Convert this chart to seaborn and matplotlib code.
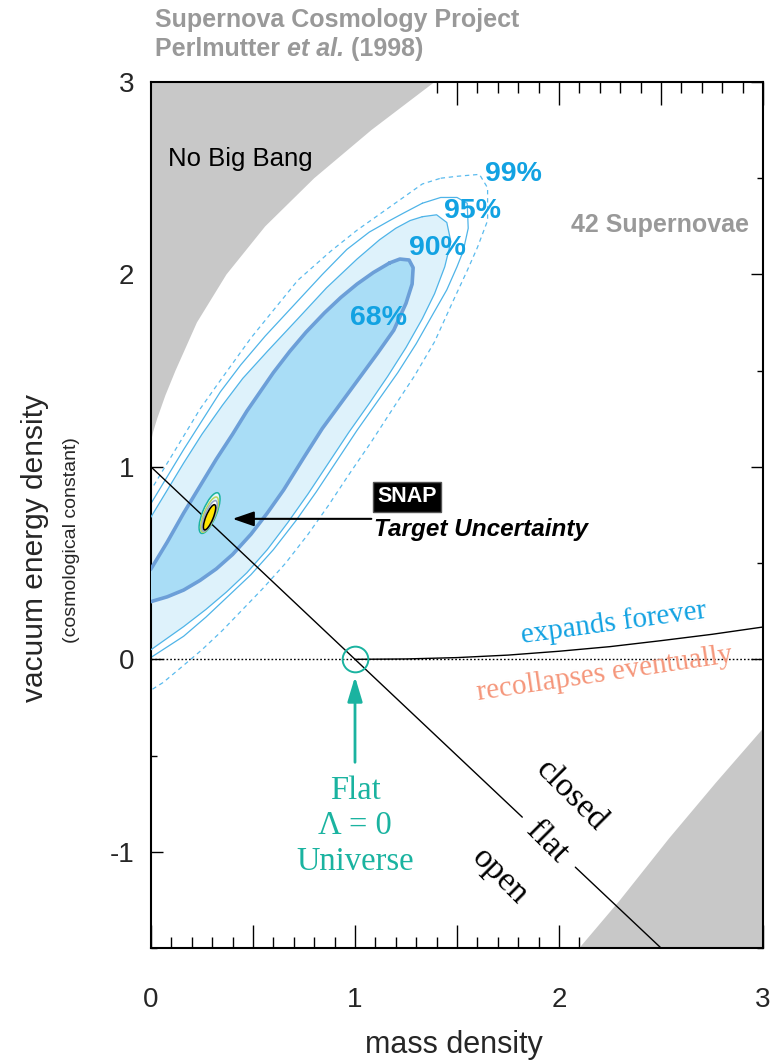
import numpy as np
import pandas as pd
import matplotlib
matplotlib.use("Agg")
import matplotlib.pyplot as plt
import seaborn as sns
from matplotlib.patches import Ellipse
from matplotlib.ticker import MultipleLocator, FuncFormatter

# ---------------- data ----------------
# "No Big Bang" region boundary (upper left)
nobigbang_x = [0.0, 0.01, 0.03, 0.07, 0.12, 0.225, 0.37, 0.56, 0.80, 1.08, 1.39]
nobigbang_y = [1.13, 1.18, 1.25, 1.37, 1.50, 1.75, 2.00, 2.25, 2.50, 2.75, 3.00]
# lower-right excluded region boundary
lowright_x = [2.10, 2.30, 2.54, 2.77, 3.00]
lowright_y = [-1.50, -1.25, -0.93, -0.64, -0.36]

# confidence contours (68 / 90 / 95 / 99 %)
c68_x = [1.17, 1.22, 1.265, 1.285, 1.28, 1.25, 1.19, 1.11, 1.02, 0.93, 0.84, 0.75, 0.65, 0.57, 0.49, 0.40,
         0.32, 0.24, 0.16, 0.08, 0.0, -0.06, -0.10, -0.09, -0.05, 0.0, 0.08, 0.16, 0.24, 0.32, 0.40, 0.47,
         0.60, 0.68, 0.76, 0.85, 0.93, 1.01, 1.09, 1.17]
c68_y = [2.06, 2.08, 2.075, 2.035, 1.95, 1.85, 1.71, 1.59, 1.46, 1.33, 1.20, 1.05, 0.88, 0.76, 0.65, 0.545,
         0.47, 0.41, 0.36, 0.325, 0.30, 0.29, 0.33, 0.39, 0.42, 0.47, 0.61, 0.76, 0.90, 1.04, 1.17, 1.29,
         1.49, 1.60, 1.70, 1.80, 1.88, 1.95, 2.01, 2.06]

c90_x = [1.33, 1.40, 1.45, 1.47, 1.44, 1.39, 1.33, 1.25, 1.16, 1.07, 0.97, 0.87, 0.77, 0.67, 0.57, 0.47,
         0.37, 0.27, 0.16, 0.08, 0.0, -0.10, -0.18, -0.20, -0.10, 0.0, 0.08, 0.16, 0.25, 0.35, 0.45, 0.57,
         0.72, 0.86, 1.01, 1.12, 1.20, 1.27, 1.33]
c90_y = [2.30, 2.31, 2.27, 2.17, 2.04, 1.90, 1.77, 1.62, 1.47, 1.33, 1.18, 1.02, 0.86, 0.71, 0.57, 0.45,
         0.35, 0.26, 0.17, 0.11, 0.05, -0.01, 0.05, 0.35, 0.58, 0.74, 0.88, 1.02, 1.17, 1.32, 1.46, 1.60,
         1.77, 1.93, 2.08, 2.18, 2.24, 2.28, 2.30]

c95_x = [1.33, 1.42, 1.50, 1.55, 1.555, 1.53, 1.50, 1.45, 1.38, 1.30, 1.21, 1.11, 1.01, 0.91, 0.81, 0.71,
         0.60, 0.49, 0.38, 0.27, 0.16, 0.0, -0.12, -0.22, -0.25, -0.10, 0.0, 0.08, 0.16, 0.25, 0.34, 0.44,
         0.56, 0.70, 0.84, 0.96, 1.07, 1.17, 1.24, 1.33]
c95_y = [2.37, 2.40, 2.40, 2.37, 2.24, 2.12, 2.04, 1.92, 1.79, 1.64, 1.49, 1.34, 1.19, 1.03, 0.87, 0.72,
         0.57, 0.44, 0.33, 0.22, 0.12, 0.01, -0.06, 0.0, 0.40, 0.65, 0.81, 0.95, 1.09, 1.24, 1.39, 1.53,
         1.68, 1.84, 2.00, 2.13, 2.22, 2.28, 2.32, 2.37]

c99_x = [1.42, 1.50, 1.61, 1.65, 1.65, 1.60, 1.55, 1.48, 1.39, 1.29, 1.19, 1.08, 0.97, 0.87, 0.77, 0.66,
         0.55, 0.45, 0.35, 0.25, 0.15, 0.06, 0.0, -0.15, -0.30, -0.10, 0.0, 0.08, 0.16, 0.24, 0.32, 0.49,
         0.62, 0.72, 0.88, 1.01, 1.13, 1.25, 1.33, 1.42]
c99_y = [2.50, 2.51, 2.52, 2.45, 2.28, 2.14, 2.02, 1.86, 1.65, 1.47, 1.31, 1.13, 0.96, 0.80, 0.65, 0.50,
         0.37, 0.26, 0.15, 0.05, -0.04, -0.12, -0.16, -0.25, 0.30, 0.73, 0.88, 1.02, 1.16, 1.30, 1.42, 1.67,
         1.84, 1.97, 2.12, 2.23, 2.32, 2.41, 2.47, 2.50]

contour_labels = ["68%", "90%", "95%", "99%"]
label_x = [1.113, 1.402, 1.574, 1.775]
label_y = [1.735, 2.099, 2.291, 2.488]

# flat universe line (with a gap for the "flat" label)
flat1_x, flat1_y = [0.0, 1.82], [1.0, -0.82]
flat2_x, flat2_y = [2.08, 2.50], [-1.08, -1.50]

# expands forever / recollapses boundary
expand_x = [1.0, 1.25, 1.5, 1.75, 2.0, 2.25, 2.5, 2.75, 3.0]
expand_y = [0.0, 0.002, 0.009, 0.022, 0.042, 0.066, 0.097, 0.130, 0.168]
zero_x, zero_y = [0.0, 3.0], [0.0, 0.0]

# SNAP target ellipses
snap_center = [(0.287, 0.760), (0.287, 0.752), (0.287, 0.745), (0.287, 0.738)]
snap_major = [0.225, 0.195, 0.170, 0.140]
snap_minor = [0.068, 0.056, 0.046, 0.036]
snap_edge = ["#1ab3a0", "#b9d65c", "#93a6c8", "#000000"]
snap_face = ["#e4f5fb", "none", "#ffffff", "#ffe600"]
snap_angle = 69

flat_point = (1.0, 0.0)

xticks_lab = [0, 1, 2, 3]
yticks_lab = [-1, 0, 1, 2, 3]

# ---------------- style ----------------
sns.set_style("white")
plt.rcParams['font.family'] = ['Liberation Sans', 'DejaVu Sans']
plt.rcParams['axes.unicode_minus'] = False
SERIF = ['Liberation Serif', 'DejaVu Serif']

GRAY_REGION = "#c8c8c8"
GRAY_TEXT = "#999999"
BLUE_TEXT = "#12a2e2"
TEAL = "#1ab3a0"
SALMON = "#f5967a"
FILL68 = "#a9ddf6"
LINE68 = "#6c9fd8"
FILL90 = "#def2fb"
THIN = "#4fb4e8"

fig = plt.figure(figsize=(7.71, 10.63), dpi=100)
ax = fig.add_axes([151 / 771, 1 - 948 / 1063, 612 / 771, 866 / 1063])
ax.set_xlim(0, 3)
ax.set_ylim(-1.5, 3)

# excluded regions
ax.fill(nobigbang_x + [0.0], nobigbang_y + [3.0], color=GRAY_REGION, lw=0, zorder=1)
ax.fill(lowright_x + [3.0], lowright_y + [-1.5], color=GRAY_REGION, lw=0, zorder=1)

# contours
def closed_line(xs, ys, **kw):
    df = pd.DataFrame({"x": xs, "y": ys})
    sns.lineplot(data=df, x="x", y="y", sort=False, estimator=None, ax=ax, **kw)

closed_line(c99_x, c99_y, color="#5bbbee", lw=0.9, linestyle=(0, (3.5, 3)), zorder=2)
closed_line(c95_x, c95_y, color=THIN, lw=0.9, zorder=2)
ax.fill(c90_x, c90_y, color=FILL90, lw=0, zorder=2)
closed_line(c90_x, c90_y, color=THIN, lw=0.9, zorder=3)
ax.fill(c68_x, c68_y, color=FILL68, lw=0, zorder=3)
closed_line(c68_x, c68_y, color=LINE68, lw=2.6, zorder=4)

for lab, lx, ly in zip(contour_labels, label_x, label_y):
    ax.text(lx, ly, lab, color=BLUE_TEXT, fontsize=20.5, fontweight='bold',
            ha='center', va='baseline', zorder=6)

# flat line, expansion boundary
sns.lineplot(x=flat1_x, y=flat1_y, color='black', lw=1.0, ax=ax, zorder=5)
sns.lineplot(x=flat2_x, y=flat2_y, color='black', lw=1.0, ax=ax, zorder=5)
ax.plot(zero_x, zero_y, color='black', lw=1.0, linestyle=(0, (1.2, 1.5)), zorder=5)
sns.lineplot(x=expand_x, y=expand_y, color='black', lw=1.0, ax=ax, zorder=5)

# SNAP ellipses
for c, w, h, ec, fc in zip(snap_center, snap_major, snap_minor, snap_edge, snap_face):
    ax.add_patch(Ellipse(c, w, h, angle=snap_angle, edgecolor=ec, facecolor=fc, lw=1.1, zorder=7))

ax.annotate("", xy=(0.40, 0.73), xytext=(1.08, 0.73),
            arrowprops=dict(arrowstyle='-|>,head_length=1.3,head_width=0.45', color='black', lw=1.5,
                            shrinkA=0, shrinkB=0), zorder=8)
ax.text(1.11, 0.845, "SNAP", color='white', fontsize=15.5, fontweight='bold', ha='left', va='center',
        bbox=dict(boxstyle='square,pad=0.2', facecolor='black', edgecolor='#555555'), zorder=8)
ax.text(1.093, 0.64, "Target Uncertainty", color='black', fontsize=17.5, fontweight='bold',
        fontstyle='italic', ha='left', va='baseline', zorder=8)

# flat lambda=0 marker and arrow
ax.plot([flat_point[0]], [flat_point[1]], marker='o', ms=18.5, mfc='none', mec=TEAL, mew=1.4, zorder=8)
ax.annotate("", xy=(1.0, -0.09), xytext=(1.0, -0.535),
            arrowprops=dict(arrowstyle='-|>,head_length=1.5,head_width=0.45', color=TEAL, lw=2.0,
                            shrinkA=0, shrinkB=0), zorder=8)
for txt, yy in [("Flat", -0.727), ("Λ = 0", -0.909), ("Universe", -1.096)]:
    ax.text(1.0, yy, txt, color=TEAL, fontsize=23.5, family=SERIF, ha='center', va='baseline', zorder=8)

# region labels
ax.text(0.083, 2.566, "No Big Bang", color='black', fontsize=18.5, ha='left', va='baseline', zorder=6)
ax.text(2.06, 2.218, "42 Supernovae", color=GRAY_TEXT, fontsize=18, fontweight='bold',
        ha='left', va='baseline', zorder=6)
ax.text(2.275, 0.151, "expands forever", color=BLUE_TEXT, fontsize=21, family=SERIF, rotation=7.8,
        rotation_mode='anchor', ha='center', va='baseline', zorder=6)
ax.text(2.23, -0.114, "recollapses eventually", color=SALMON, fontsize=21, family=SERIF, rotation=8.5,
        rotation_mode='anchor', ha='center', va='baseline', zorder=6)
for txt, xx, yy in [("closed", 2.06, -0.71), ("flat", 1.94, -0.95), ("open", 1.71, -1.13)]:
    ax.text(xx, yy, txt, color='black', fontsize=24.5, family=SERIF, rotation=-45,
            rotation_mode='anchor', ha='center', va='center', zorder=6)

# axes / ticks
for s in ax.spines.values():
    s.set_linewidth(1.5)
    s.set_color('black')
    s.set_visible(True)
ax.xaxis.set_major_locator(MultipleLocator(0.5))
ax.xaxis.set_minor_locator(MultipleLocator(0.1))
ax.yaxis.set_major_locator(MultipleLocator(1.0))
ax.yaxis.set_minor_locator(MultipleLocator(0.5))
ax.xaxis.set_major_formatter(FuncFormatter(lambda v, p: f"{int(round(v))}" if abs(v - round(v)) < 1e-6 and int(round(v)) in xticks_lab else ""))
ax.yaxis.set_major_formatter(FuncFormatter(lambda v, p: f"{int(round(v))}" if int(round(v)) in yticks_lab else ""))
ax.tick_params(which='both', direction='in', top=True, right=True, bottom=True, left=True, color='black')
ax.tick_params(axis='x', which='major', length=16.5, width=1.0, pad=28, labelsize=20)
ax.tick_params(axis='x', which='minor', length=8, width=1.0)
ax.tick_params(axis='y', which='major', length=8.6, width=1.0, pad=12, labelsize=20)
ax.tick_params(axis='y', which='minor', length=4.5, width=1.0)
ax.set_xlabel("")
ax.set_ylabel("")

ax.text((454 - 151) / 612, (948 - 1045) / 866, "mass density", transform=ax.transAxes,
        fontsize=22, ha='center', va='center')
ax.text((35 - 151) / 612, (948 - 548) / 866, "vacuum energy density", transform=ax.transAxes,
        fontsize=21.5, rotation=90, ha='center', va='center')
ax.text((72 - 151) / 612, (948 - 540) / 866, "(cosmological constant)", transform=ax.transAxes,
        fontsize=14, rotation=90, ha='center', va='center')

# header
fig.text(155 / 771, 1 - 27 / 1063, "Supernova Cosmology Project", color=GRAY_TEXT, fontsize=18,
         fontweight='bold', ha='left', va='baseline')
t1 = fig.text(155 / 771, 1 - 56 / 1063, "Perlmutter ", color=GRAY_TEXT, fontsize=18,
              fontweight='bold', ha='left', va='baseline')
t2 = ax.annotate("et al.", xycoords=t1, xy=(1, 0), va='bottom', ha='left', color=GRAY_TEXT,
                 fontsize=18, fontweight='bold', fontstyle='italic', annotation_clip=False)
t3 = ax.annotate(" (1998)", xycoords=t2, xy=(1, 0), va='bottom', ha='left', color=GRAY_TEXT,
                 fontsize=18, fontweight='bold', annotation_clip=False)

fig.savefig("out.png", dpi=100)
